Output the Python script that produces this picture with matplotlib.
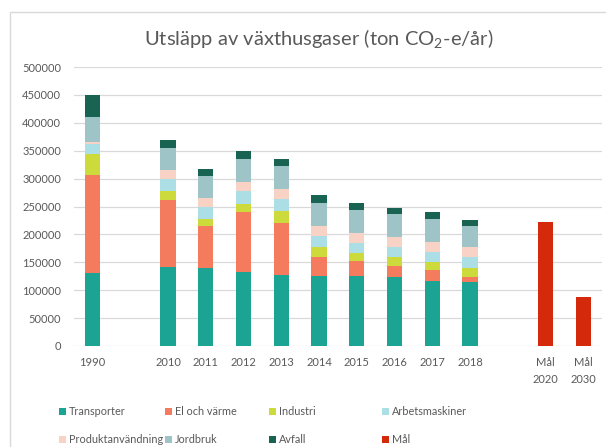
import numpy as np
import matplotlib
matplotlib.use("Agg")
import matplotlib.pyplot as plt
from matplotlib.patches import Rectangle

plt.rcParams['font.family'] = ['Lato', 'DejaVu Sans']

# Kategorier (tomma platser ger luckor i diagrammet)
kategorier = ["1990", "", "2010", "2011", "2012", "2013", "2014", "2015",
              "2016", "2017", "2018", "", "Mål\n2020", "Mål\n2030"]

nan = np.nan
transporter = [131000, nan, 142000, 140000, 133000, 128000, 126000, 126000, 123000, 116000, 115000, nan, nan, nan]
el_varme = [175000, nan, 119000, 75000, 108000, 93000, 33000, 27000, 20000, 20000, 9000, nan, nan, nan]
industri = [38000, nan, 17000, 13000, 14000, 21000, 19000, 13000, 16000, 15000, 15000, nan, nan, nan]
arbetsmaskiner = [18000, nan, 21000, 22000, 22000, 21000, 19000, 18000, 18000, 18000, 20000, nan, nan, nan]
produkt = [3000, nan, 16000, 16000, 17000, 18000, 18000, 19000, 19000, 18000, 18000, nan, nan, nan]
jordbruk = [45000, nan, 39000, 38000, 41000, 42000, 42000, 41000, 41000, 41000, 38000, nan, nan, nan]
avfall = [40000, nan, 16000, 14000, 14000, 12000, 13000, 12000, 11000, 12000, 10000, nan, nan, nan]
mal = [nan, nan, nan, nan, nan, nan, nan, nan, nan, nan, nan, nan, 222000, 87000]

serier = [
    ("Transporter", transporter, "#1BA393"),
    ("El och värme", el_varme, "#F57B5E"),
    ("Industri", industri, "#CCDA3C"),
    ("Arbetsmaskiner", arbetsmaskiner, "#ABDFE5"),
    ("Produktanvändning", produkt, "#F8D3C5"),
    ("Jordbruk", jordbruk, "#9FC4C7"),
    ("Avfall", avfall, "#186352"),
]

grå = "#595959"

fig = plt.figure(figsize=(6.06, 4.47), dpi=100)
ax = fig.add_axes([0.1215, 0.226, 0.872, 0.624])

x = np.arange(len(kategorier))
botten = np.zeros(len(kategorier))
staplar = {}
for namn, varden, farg in serier:
    v = np.nan_to_num(np.array(varden, dtype=float))
    staplar[namn] = ax.bar(x, v, 0.4, bottom=botten, color=farg, label=namn, zorder=3)
    botten += v
staplar["Mål"] = ax.bar(x, np.nan_to_num(np.array(mal, dtype=float)), 0.4,
                        color="#D42A0B", label="Mål", zorder=3)

ax.set_xlim(-0.5, len(kategorier) - 0.5)
ax.set_ylim(0, 500000)
ax.set_yticks(np.arange(0, 500001, 50000))
ax.set_xticks(x)
ax.set_xticklabels(kategorier, linespacing=1.7)
ax.tick_params(axis="both", length=0, colors=grå, labelsize=8)
ax.tick_params(axis="x", pad=8)
ax.tick_params(axis="y", pad=9)
ax.grid(axis="y", color="#D9D9D9", linewidth=0.9, zorder=0)
for s in ax.spines.values():
    s.set_visible(False)

fig.text(0.526, 0.913, "Utsläpp av växthusgaser (ton CO$_\\mathregular{2}$-e/år)",
         ha="center", va="center", fontsize=14.5, color=grå)

# Ram runt diagrammet
fig.patches.append(Rectangle((10 / 606, -0.1), 1.2, 1.1 - 12 / 447, transform=fig.transFigure,
                             fill=False, edgecolor="#D9D9D9", linewidth=1))

# Förklaring i fyra kolumner
kolumner = [("Transporter", "Produktanvändning"), ("El och värme", "Jordbruk"),
            ("Industri", "Avfall"), ("Arbetsmaskiner", "Mål")]
xpos = [55, 161, 265, 378]
for (a, b), xp in zip(kolumner, xpos):
    fig.legend([staplar[a], staplar[b]], [a, b], loc="upper left",
               bbox_to_anchor=(xp / 606, 1 - 402 / 447), frameon=False,
               fontsize=7.8, labelcolor=grå, handlelength=0.6, handleheight=0.6,
               handletextpad=0.3, labelspacing=1.55, borderaxespad=0)

fig.savefig("out.png", dpi=100)
